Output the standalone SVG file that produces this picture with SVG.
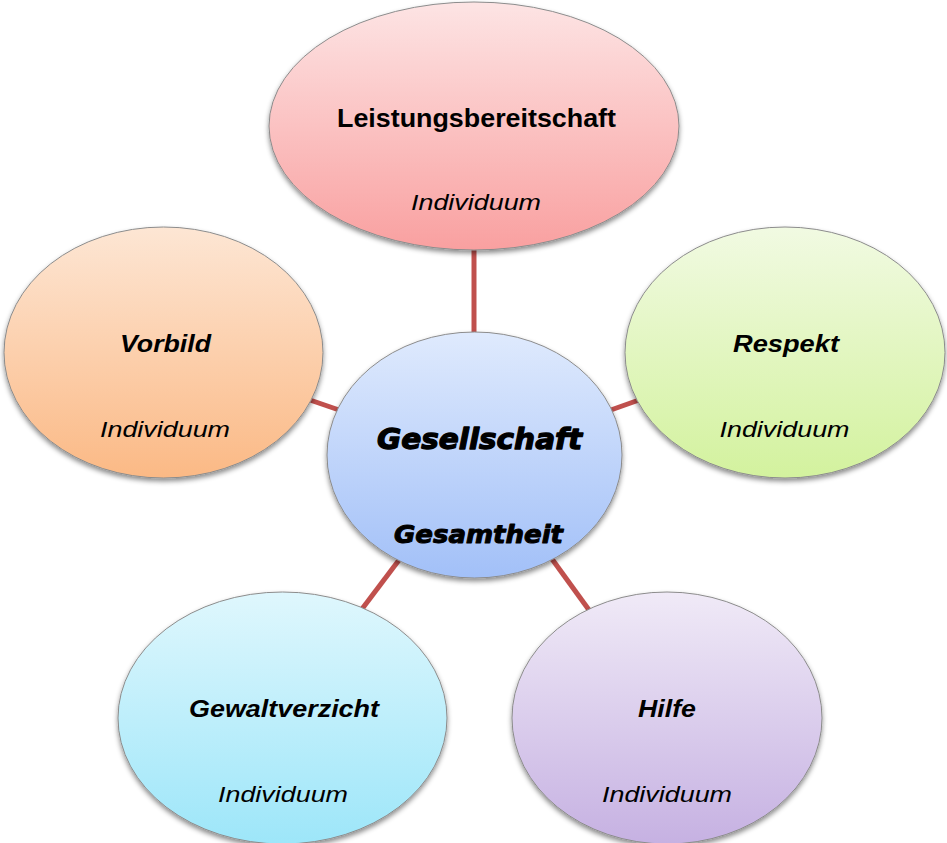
<svg xmlns="http://www.w3.org/2000/svg" width="947" height="843" viewBox="0 0 947 843">
<style>
.node{stroke:#8c8c8c;stroke-width:1;filter:url(#sh)}
.conn{stroke:#C0504D;stroke-width:5;fill:none}
.t{font-family:"Liberation Sans",Arial,sans-serif;fill:#000;text-anchor:middle}
.b{font-weight:bold;font-size:25px}
.bi{font-weight:bold;font-style:italic;font-size:23px}
.i{font-style:italic;font-size:22px}
.c{font-family:"DejaVu Sans",sans-serif;font-weight:bold;font-style:italic;fill:#000;stroke:#000;stroke-linejoin:round;text-anchor:middle}
</style>
<defs>
<filter id="sh" x="-10%" y="-10%" width="120%" height="125%">
<feDropShadow dx="0" dy="3" stdDeviation="2.5" flood-color="#000" flood-opacity="0.45"/>
</filter>
<linearGradient id="gRed" x1="0" y1="0" x2="0" y2="1"><stop offset="0" stop-color="#FDE4E4"/><stop offset="1" stop-color="#F9A0A0"/></linearGradient>
<linearGradient id="gOrange" x1="0" y1="0" x2="0" y2="1"><stop offset="0" stop-color="#FDE6D4"/><stop offset="1" stop-color="#FBB985"/></linearGradient>
<linearGradient id="gGreen" x1="0" y1="0" x2="0" y2="1"><stop offset="0" stop-color="#F1FAE2"/><stop offset="1" stop-color="#D3F29E"/></linearGradient>
<linearGradient id="gBlue" x1="0" y1="0" x2="0" y2="1"><stop offset="0" stop-color="#DFEAFD"/><stop offset="1" stop-color="#A2C0F8"/></linearGradient>
<linearGradient id="gCyan" x1="0" y1="0" x2="0" y2="1"><stop offset="0" stop-color="#DFF7FD"/><stop offset="1" stop-color="#9DE6F9"/></linearGradient>
<linearGradient id="gPurple" x1="0" y1="0" x2="0" y2="1"><stop offset="0" stop-color="#F0EAF7"/><stop offset="1" stop-color="#C6B1E2"/></linearGradient>
</defs>
<rect width="947" height="843" fill="#fff"/>
<g id="connectors">
<line class="conn" x1="474" y1="248" x2="474" y2="332"/>
<line class="conn" x1="310" y1="400" x2="342" y2="411"/>
<line class="conn" x1="608" y1="411" x2="639" y2="400"/>
<line class="conn" x1="399" y1="560" x2="362" y2="609"/>
<line class="conn" x1="552" y1="559" x2="589" y2="610"/>
</g>
<g id="leistungsbereitschaft">
<ellipse class="node" cx="474" cy="126" rx="205" ry="124" fill="url(#gRed)"/>
<text class="t b" x="476.5" y="127" textLength="279" lengthAdjust="spacingAndGlyphs">Leistungsbereitschaft</text>
<text class="t i" x="476" y="210" textLength="130" lengthAdjust="spacingAndGlyphs">Individuum</text>
</g>
<g id="vorbild">
<ellipse class="node" cx="163.5" cy="352.5" rx="159.5" ry="125.5" fill="url(#gOrange)"/>
<text class="t bi" x="165.5" y="352" textLength="91" lengthAdjust="spacingAndGlyphs">Vorbild</text>
<text class="t i" x="165" y="437" textLength="130" lengthAdjust="spacingAndGlyphs">Individuum</text>
</g>
<g id="respekt">
<ellipse class="node" cx="785" cy="352.5" rx="160" ry="125.5" fill="url(#gGreen)"/>
<text class="t bi" x="786" y="352" textLength="106" lengthAdjust="spacingAndGlyphs">Respekt</text>
<text class="t i" x="784.5" y="437" textLength="130" lengthAdjust="spacingAndGlyphs">Individuum</text>
</g>
<g id="gewaltverzicht">
<ellipse class="node" cx="282.5" cy="718" rx="164.5" ry="126" fill="url(#gCyan)"/>
<text class="t bi" x="284" y="717" textLength="190" lengthAdjust="spacingAndGlyphs">Gewaltverzicht</text>
<text class="t i" x="283" y="802" textLength="130" lengthAdjust="spacingAndGlyphs">Individuum</text>
</g>
<g id="hilfe">
<ellipse class="node" cx="667" cy="718" rx="155" ry="126" fill="url(#gPurple)"/>
<text class="t bi" x="667" y="717" textLength="58" lengthAdjust="spacingAndGlyphs">Hilfe</text>
<text class="t i" x="667" y="802" textLength="130" lengthAdjust="spacingAndGlyphs">Individuum</text>
</g>
<g id="gesellschaft">
<ellipse class="node" cx="474.5" cy="455" rx="147.5" ry="123" fill="url(#gBlue)"/>
<text class="c" x="479.5" y="449" font-size="29" stroke-width="1.3" textLength="205" lengthAdjust="spacingAndGlyphs">Gesellschaft</text>
<text class="c" x="478.5" y="543" font-size="24" stroke-width="1" textLength="169" lengthAdjust="spacingAndGlyphs">Gesamtheit</text>
</g>
</svg>
